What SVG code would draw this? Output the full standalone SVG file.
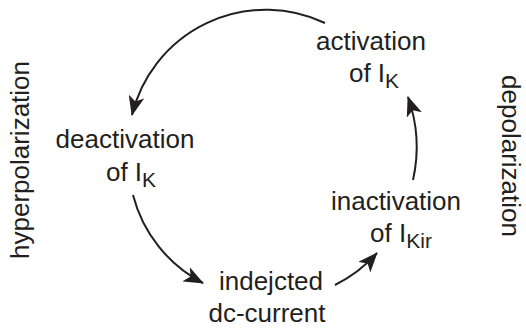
<svg xmlns="http://www.w3.org/2000/svg" width="526" height="329" viewBox="0 0 526 329">
  <style>
    text { font-family: "Liberation Sans", Arial, Helvetica, sans-serif; font-size: 26px; fill: #231f20; text-anchor: middle; }
    .sub { font-size: 21px; }
    .conn { fill: none; stroke: #231f20; stroke-width: 2; }
  </style>
  <defs>
    <marker id="ah" viewBox="0 0 20 16" refX="19" refY="8" markerWidth="20" markerHeight="16" markerUnits="userSpaceOnUse" orient="auto">
      <path d="M0,0 L20,8 L0,16 L5,8 Z" fill="#231f20"/>
    </marker>
  </defs>
  <rect width="526" height="329" fill="#ffffff"/>

  <g id="side-labels">
    <text transform="translate(29,160) rotate(-90)">hyperpolarization</text>
    <text transform="translate(502,156) rotate(90)">depolarization</text>
  </g>

  <g id="connectors">
    <path class="conn" marker-end="url(#ah)" d="M325,23 A138,138 0 0 0 132,115"/>
    <path class="conn" marker-end="url(#ah)" d="M133,195 A138,138 0 0 0 203,283"/>
    <path class="conn" marker-end="url(#ah)" d="M335,285 A140,140 0 0 0 377,253"/>
    <path class="conn" marker-end="url(#ah)" d="M413,180 A150,150 0 0 0 408,97"/>
  </g>

  <g id="activation">
    <text x="371" y="50">activation</text>
    <text x="374" y="82">of I<tspan class="sub" dy="6">K</tspan></text>
  </g>

  <g id="deactivation">
    <text x="125" y="148">deactivation</text>
    <text x="131" y="181">of I<tspan class="sub" dy="6">K</tspan></text>
  </g>

  <g id="inactivation">
    <text x="396" y="210">inactivation</text>
    <text x="401" y="242">of I<tspan class="sub" dy="6">Kir</tspan></text>
  </g>

  <g id="injected">
    <text x="271" y="290">indejcted</text>
    <text x="267" y="322">dc-current</text>
  </g>
</svg>
